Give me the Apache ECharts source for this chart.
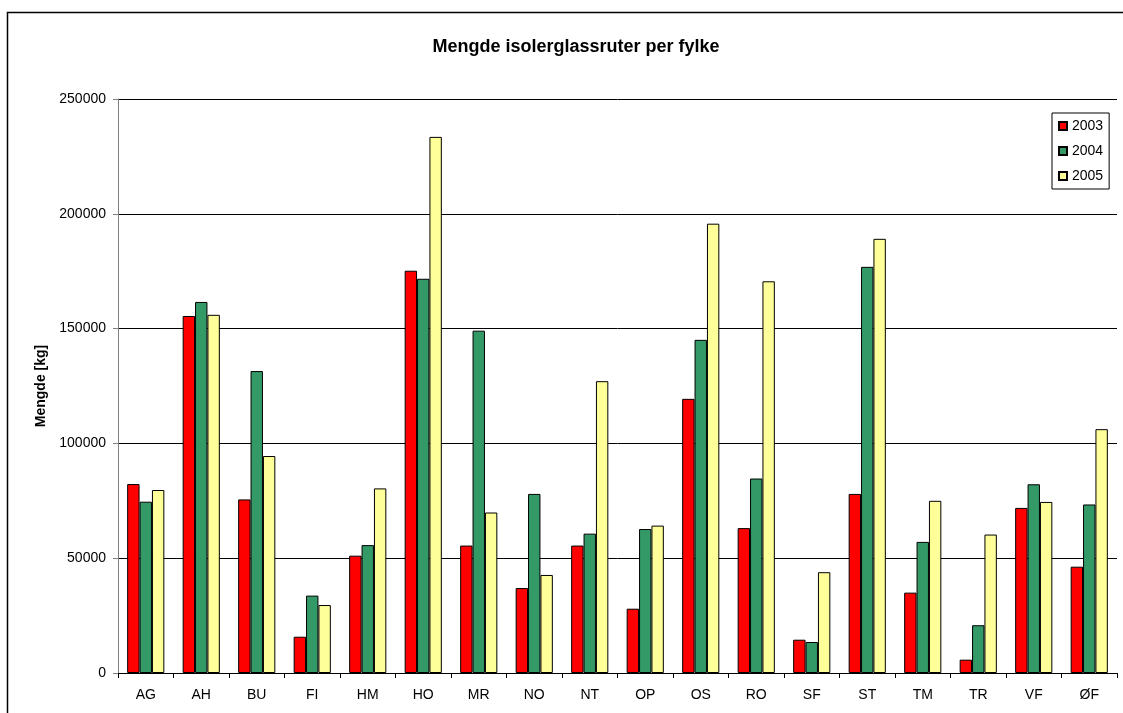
<!DOCTYPE html>
<html>
<head>
<meta charset="utf-8">
<script src="https://cdn.jsdelivr.net/npm/echarts@6/dist/echarts.min.js"></script>
<style>
  html, body { margin: 0; padding: 0; background: #fff; }
  #chart { width: 1123px; height: 713px; }
</style>
</head>
<body>
<div id="chart"></div>
<script>
const fylker = ['AG', 'AH', 'BU', 'FI', 'HM', 'HO', 'MR', 'NO', 'NT', 'OP', 'OS', 'RO', 'SF', 'ST', 'TM', 'TR', 'VF', 'ØF']
const y2003 = [82300, 155500, 75600, 15800, 51100, 175200, 55500, 37000, 55500, 28000, 119400, 63100, 14500, 78000, 35000, 5800, 71900, 46300]
const y2004 = [74600, 161600, 131500, 33700, 55700, 171700, 149100, 78000, 60700, 62700, 145100, 84700, 13500, 176900, 57100, 20800, 82200, 73400]
const y2005 = [79700, 156000, 94500, 29600, 80400, 233500, 69900, 42700, 127100, 64200, 195700, 170600, 43900, 189100, 75000, 60300, 74500, 106200]
const yearNames = ['2003', '2004', '2005']

const font = '"Liberation Sans", Arial, sans-serif'
const chart = echarts.init(document.getElementById('chart'))

function barSeries(name, data, color) {
  return {
    name,
    type: 'bar',
    data,
    barGap: '0%',
    barCategoryGap: '33%',
    itemStyle: { color, borderColor: '#000', borderWidth: 1 },
    emphasis: { disabled: true },
  }
}

chart.setOption({
  animation: false,
  textStyle: { fontFamily: font, color: '#000' },
  title: {
    text: 'Mengde isolerglassruter per fylke',
    left: 571,
    textAlign: 'center',
    top: 33,
    textStyle: { fontFamily: font, fontSize: 18, fontWeight: 'bold', color: '#000' },
  },
  graphic: [
    {
      type: 'rect',
      shape: { x: 7.5, y: 12.5, width: 1140, height: 740 },
      style: { fill: 'none', stroke: '#000', lineWidth: 1.5 },
      silent: true,
    },
  ],
  legend: {
    data: yearNames,
    orient: 'vertical',
    left: 1052,
    top: 113,
    padding: [6, 6, 6, 6],
    itemGap: 11,
    itemWidth: 8,
    itemHeight: 8,
    icon: 'rect',
    borderColor: '#000',
    borderWidth: 1,
    textStyle: { fontFamily: font, fontSize: 14, color: '#000', padding: [0, 0, 0, 0] },
  },
  grid: { left: 118, right: 6, top: 99, bottom: 40, containLabel: false },
  xAxis: {
    type: 'category',
    data: fylker,
    axisLine: { lineStyle: { color: '#000', width: 1 } },
    axisTick: { show: true, length: 5, alignWithLabel: false, lineStyle: { color: '#000' } },
    axisLabel: { fontFamily: font, fontSize: 14, color: '#000', margin: 15, interval: 0 },
  },
  yAxis: {
    type: 'value',
    min: 0,
    max: 250000,
    interval: 50000,
    name: 'Mengde [kg]',
    nameLocation: 'middle',
    nameGap: 69,
    nameTextStyle: { fontFamily: font, fontSize: 14, fontWeight: 'bold', color: '#000' },
    axisLine: { show: true, lineStyle: { color: '#808080', width: 1 } },
    axisTick: { show: true, length: 5, lineStyle: { color: '#808080' } },
    axisLabel: { fontFamily: font, fontSize: 14, color: '#000', margin: 12, formatter: v => String(v) },
    splitLine: { show: true, lineStyle: { color: '#000', width: 1 } },
  },
  series: [
    barSeries('2003', y2003, '#ff0000'),
    barSeries('2004', y2004, '#339966'),
    barSeries('2005', y2005, '#ffff99'),
  ],
})

window.addEventListener('resize', () => chart.resize())
</script>
</body>
</html>
